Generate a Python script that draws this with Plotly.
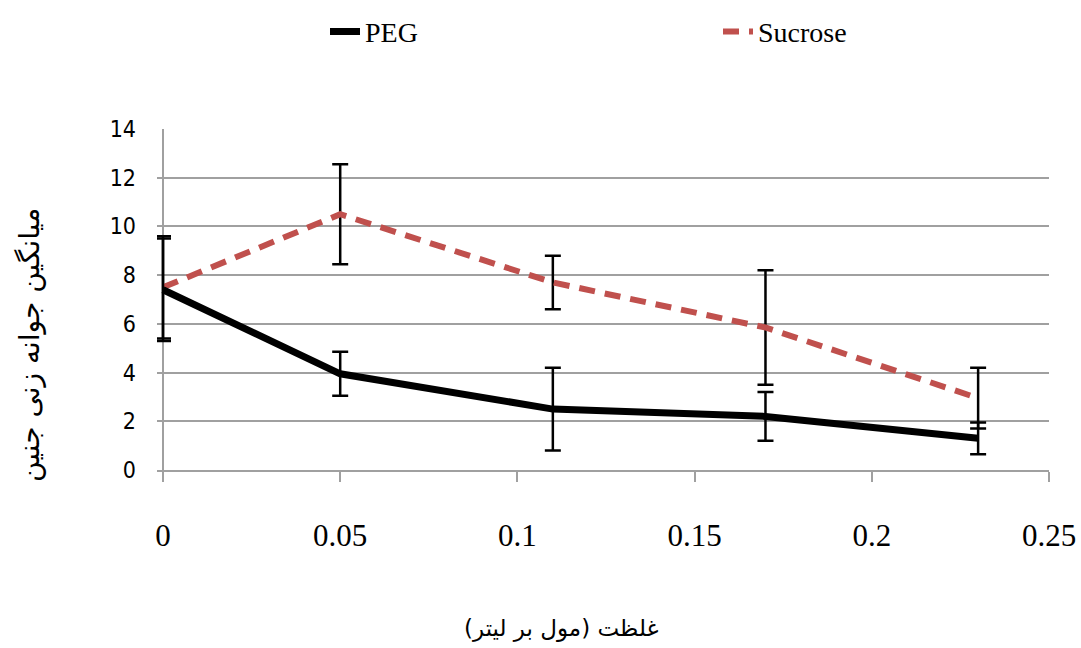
import plotly.graph_objects as go

concentration = [0, 0.05, 0.11, 0.17, 0.23]
peg_mean = [7.4, 3.95, 2.5, 2.2, 1.3]
peg_err = [2.1, 0.9, 1.7, 1.0, 0.65]
sucrose_mean = [7.5, 10.5, 7.7, 5.85, 2.95]
sucrose_err = [2.1, 2.05, 1.1, 2.35, 1.25]

x_ticks = [0, 0.05, 0.1, 0.15, 0.2, 0.25]
x_tick_labels = ["0", "0.05", "0.1", "0.15", "0.2", "0.25"]
y_ticks = [0, 2, 4, 6, 8, 10, 12, 14]

x_title = "غلظت (مول بر لیتر)"
y_title = "میانگین جوانه زنی جنین"

fig = go.Figure()

fig.add_trace(go.Scatter(
    x=concentration, y=sucrose_mean, name="Sucrose", mode="lines",
    line=dict(color="#C0504D", width=6, dash="16px,10px"),
    error_y=dict(type="data", array=sucrose_err, visible=True,
                 color="black", thickness=2.5, width=8),
    cliponaxis=False, legend="legend2",
))
fig.add_trace(go.Scatter(
    x=concentration, y=peg_mean, name="PEG", mode="lines",
    line=dict(color="black", width=7),
    error_y=dict(type="data", array=peg_err, visible=True,
                 color="black", thickness=2.5, width=8),
    cliponaxis=False, legend="legend",
))

serif = "Liberation Serif, Times New Roman, serif"
narrow = "Liberation Sans Narrow, DejaVu Sans Condensed, Liberation Sans, sans-serif"

legend_common = dict(
    orientation="h", yanchor="middle", y=1.285, xanchor="left",
    font=dict(family=serif, size=28, color="black"),
    bgcolor="rgba(0,0,0,0)",
)

# plot area starts 12 px left of x=0 so error bars at x=0 are not clipped;
# the y gridlines poking out left of the x=0 line look like outside ticks.
left_px = 151
pad = 12 / (1049 - 163) * 0.25
plot_w = 1049 - left_px

def px(xp):
    return (xp - left_px) / plot_w

fig.update_layout(
    width=1081, height=648,
    margin=dict(l=left_px, r=32, t=129, b=178, autoexpand=False),
    paper_bgcolor="white", plot_bgcolor="white",
    showlegend=True,
    legend=dict(x=px(325), **legend_common),
    legend2=dict(x=px(718), **legend_common),
    xaxis=dict(
        range=[-pad, 0.25], tickvals=x_ticks, ticktext=x_tick_labels,
        showgrid=False,
        zeroline=True, zerolinecolor="#a0a0a0", zerolinewidth=1.5,
        showline=True, linecolor="#a0a0a0", linewidth=1.5,
        ticks="outside", ticklen=10, tickcolor="#a0a0a0", tickwidth=1.5,
        ticklabelstandoff=27,
        tickfont=dict(family=serif, size=31, color="black"),
    ),
    yaxis=dict(
        range=[0, 14], tickvals=y_ticks,
        showgrid=True, gridcolor="#a0a0a0", gridwidth=1.5,
        zeroline=False, showline=False,
        ticks="",
        ticklabelstandoff=14,
        tickfont=dict(family=narrow, size=23, color="black"),
    ),
    shapes=[
        # cover the part of the gridlines left of the 6 px tick length
        dict(type="rect", xref="x", yref="paper", x0=-pad, x1=-pad / 2, y0=-0.01, y1=1.01,
             fillcolor="white", line=dict(width=0), layer="above"),
    ],
    annotations=[
        dict(text=x_title, xref="paper", yref="paper",
             x=px(561), y=(470 - 628) / 341, xanchor="center", yanchor="middle",
             showarrow=False, font=dict(family="DejaVu Sans", size=23, color="black")),
        dict(text=y_title, xref="paper", yref="paper",
             x=px(29), y=(470 - 345) / 341, xanchor="center", yanchor="middle",
             textangle=-90,
             showarrow=False, font=dict(family="DejaVu Sans", size=28, color="black")),
    ],
)

fig.write_html("out.html", post_script="document.body.style.margin='0';",
               config={"displayModeBar": False})
